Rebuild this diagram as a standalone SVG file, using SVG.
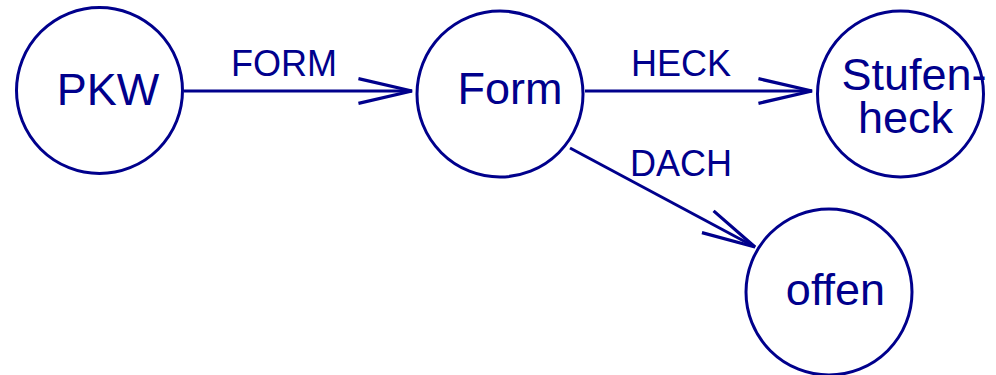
<svg xmlns="http://www.w3.org/2000/svg" width="996" height="375" viewBox="0 0 996 375">
  <style>
    .node { fill: #ffffff; stroke: #00008c; stroke-width: 3; }
    .name { font-family: "Liberation Sans", Arial, sans-serif; font-size: 45px; fill: #00008c; text-anchor: middle; }
    .edge { fill: none; stroke: #00008c; stroke-width: 3; }
    .label { font-family: "Liberation Sans", Arial, sans-serif; font-size: 36px; fill: #00008c; text-anchor: middle; }
  </style>
  <defs>
    <marker id="open-arrow" markerUnits="userSpaceOnUse" markerWidth="60" markerHeight="30" viewBox="-52 -14 56 28" refX="0" refY="0" orient="auto" overflow="visible">
      <path d="M-50,-11.5 L0,0 L-50,11.5" fill="none" stroke="#00008c" stroke-width="3"/>
    </marker>
  </defs>

  <rect width="996" height="375" fill="#ffffff"/>

  <g id="connectors">
    <line class="edge" x1="184" y1="91" x2="412" y2="91" marker-end="url(#open-arrow)"/>
    <text class="label" x="284" y="76">FORM</text>
    <line class="edge" x1="585" y1="91" x2="812" y2="91" marker-end="url(#open-arrow)"/>
    <text class="label" x="681" y="76">HECK</text>
    <line class="edge" x1="570" y1="148" x2="755" y2="247" marker-end="url(#open-arrow)"/>
    <text class="label" x="681" y="176">DACH</text>
  </g>

  <g id="node-pkw">
    <circle class="node" cx="99.5" cy="90.5" r="83"/>
    <text class="name" x="108" y="105">PKW</text>
  </g>

  <g id="node-form">
    <circle class="node" cx="500" cy="94" r="83"/>
    <text class="name" x="510" y="104">Form</text>
  </g>

  <g id="node-stufenheck">
    <circle class="node" cx="900.5" cy="94" r="83"/>
    <text class="name" x="914" y="90">Stufen-</text>
    <text class="name" x="905.5" y="133">heck</text>
  </g>

  <g id="node-offen">
    <circle class="node" cx="829" cy="292" r="83"/>
    <text class="name" x="835.5" y="305">offen</text>
  </g>
</svg>
